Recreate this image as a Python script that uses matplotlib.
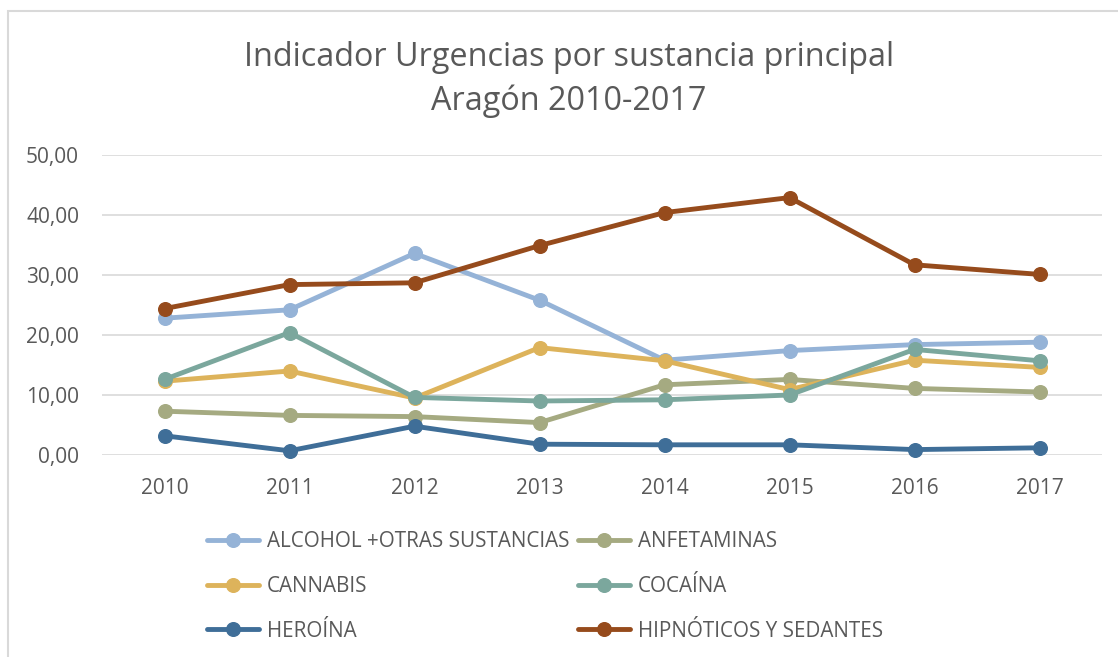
import numpy as np
import matplotlib
matplotlib.use("Agg")
import matplotlib.pyplot as plt
from matplotlib.patches import Rectangle
from matplotlib.ticker import FuncFormatter

years = ["2010", "2011", "2012", "2013", "2014", "2015", "2016", "2017"]

alcohol = [22.8, 24.2, 33.6, 25.8, 15.8, 17.4, 18.4, 18.8]
anfetaminas = [7.3, 6.6, 6.4, 5.4, 11.7, 12.6, 11.1, 10.5]
cannabis = [12.3, 14.0, 9.5, 17.9, 15.7, 10.9, 15.8, 14.6]
cocaina = [12.6, 20.4, 9.6, 9.0, 9.2, 10.0, 17.6, 15.7]
heroina = [3.2, 0.7, 4.8, 1.8, 1.7, 1.7, 0.9, 1.2]
hipnoticos = [24.4, 28.4, 28.7, 34.9, 40.4, 42.9, 31.7, 30.1]

labels = ["ALCOHOL +OTRAS SUSTANCIAS", "ANFETAMINAS", "CANNABIS",
          "COCAÍNA", "HEROÍNA", "HIPNÓTICOS Y SEDANTES"]
colors = ["#95b3d7", "#a5aa81", "#ddb35b", "#7ba79d", "#3f6e98", "#964b1c"]
series = [alcohol, anfetaminas, cannabis, cocaina, heroina, hipnoticos]

text_col = "#595959"
grid_col = "#d9d9d9"

fig = plt.figure(figsize=(11.18, 6.57), dpi=100)
W, H = 1118, 657
ax = fig.add_axes([102 / W, 1 - 455 / H, 1000 / W, 300 / H])

x = np.arange(len(years))
lines = []
for vals, lab, col in zip(series, labels, colors):
    ln, = ax.plot(x, vals, color=col, lw=3.5, marker="o", ms=9.8,
                  label=lab, clip_on=False, solid_capstyle="round")
    lines.append(ln)

ax.set_xlim(-0.5, len(years) - 0.5)
ax.set_ylim(0, 50)
ax.set_yticks(np.arange(0, 51, 10))
ax.yaxis.set_major_formatter(FuncFormatter(lambda v, p: f"{v:.2f}".replace(".", ",")))
ax.set_xticks(x)
ax.set_xticklabels(years)
ax.grid(axis="y", color=grid_col, lw=1.2)
ax.set_axisbelow(True)
for s in ax.spines.values():
    s.set_visible(False)
ax.tick_params(length=0, labelsize=15, labelcolor=text_col)
ax.tick_params(axis="y", pad=16.5)
ax.tick_params(axis="x", pad=16.5)
for t in ax.get_xticklabels() + ax.get_yticklabels():
    t.set_fontfamily("Open Sans")

fig.text(569 / W, 1 - 57 / H, "Indicador Urgencias por sustancia principal",
         ha="center", va="center", fontsize=23.3, color=text_col, family="Open Sans")
fig.text(569 / W, 1 - 101 / H, "Aragón 2010-2017",
         ha="center", va="center", fontsize=23.3, color=text_col, family="Open Sans")

# same order as the Excel legend (row by row)
order = [0, 2, 4, 1, 3, 5]
leg = fig.legend([lines[i] for i in order], [labels[i] for i in order],
                 ncol=2, loc="upper left", bbox_to_anchor=(207 / W, 1 - 531 / H),
                 frameon=False, borderpad=0, borderaxespad=0,
                 handlelength=2.5, handletextpad=0.4, columnspacing=0.4,
                 labelspacing=1.15, prop={"family": "Open Sans", "size": 14.9})
for t in leg.get_texts():
    t.set_color(text_col)

fig.patches.append(Rectangle((8 / W, -0.1), 1.2, 1 - 11 / H + 0.1,
                             transform=fig.transFigure, fill=False,
                             edgecolor=grid_col, lw=1.5))

fig.savefig("out.png", dpi=100)
